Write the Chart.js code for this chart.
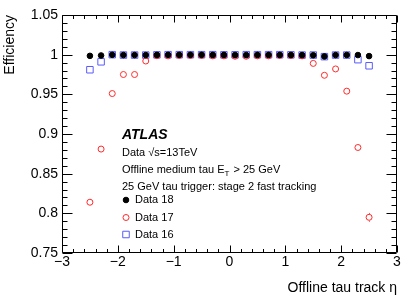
<!DOCTYPE html>
<html><head><meta charset="utf-8">
<script src="https://cdn.jsdelivr.net/npm/chart.js@4/dist/chart.umd.min.js"></script>
<style>html,body{margin:0;padding:0;background:#fff}#wrap{width:415px;height:298px}</style>
</head><body><div id="wrap"><canvas id="c" width="415" height="298"></canvas></div>
<script>
// ---- data ----
const etaBins = [-2.5,-2.3,-2.1,-1.9,-1.7,-1.5,-1.3,-1.1,-0.9,-0.7,-0.5,-0.3,-0.1,0.1,0.3,0.5,0.7,0.9,1.1,1.3,1.5,1.7,1.9,2.1,2.3,2.5];
const data18 = [0.9985,0.9990,0.9998,0.9995,0.9995,0.9995,0.9997,0.9998,0.9998,0.9998,0.9998,0.9997,0.9997,0.9996,0.9996,0.9997,0.9997,0.9997,0.9996,0.9995,0.9993,0.9978,0.9995,0.9996,0.9995,0.9982];
const data17 = [0.814,0.881,0.951,0.975,0.975,0.992,0.9987,0.9985,0.999,0.999,0.999,0.9985,0.9985,0.998,0.998,0.9985,0.9985,0.999,0.999,0.9985,0.989,0.974,0.982,0.954,0.883,0.795];
const data17Err = [0.0045,0,0,0,0,0,0,0,0,0,0,0,0,0,0,0,0,0,0,0,0,0,0,0,0,0.0055];
const data16 = [0.981,0.991,1.0,0.9995,0.9995,0.9995,0.9998,1.0,1.0,1.0,1.0,1.0,0.9998,0.9998,1.0,1.0,1.0,1.0,0.9998,0.9995,0.9995,0.9975,0.9995,0.9995,0.9937,0.986];
const seriesLabels = ['Data 18','Data 17','Data 16'];
const xTickValues = [-3,-2,-1,0,1,2,3];
const yTickValues = [0.75,0.8,0.85,0.9,0.95,1,1.05];
const xTitle = 'Offline tau track \u03b7';
const yTitle = 'Efficiency';
const experimentLabel = 'ATLAS';
const infoLine1 = 'Data \u221as=13TeV';
const infoLine3 = '25 GeV tau trigger: stage 2 fast tracking';

const FONT = "'Liberation Sans', Arial, Helvetica, sans-serif";
const RED = '#ff2a2a', BLUE = '#5a5aff';

function pts(ys){ return etaBins.map((x,i)=>({x:x,y:ys[i]})); }

const rootAxes = {
  id:'rootAxes',
  afterDraw(chart){
    const ctx = chart.ctx, a = chart.chartArea, xs = chart.scales.x, ys = chart.scales.y;
    ctx.save();
    ctx.strokeStyle = '#000'; ctx.lineWidth = 1;
    const L = Math.round(a.left)+0.5, R = Math.round(a.right)-0.5, T = Math.round(a.top)+0.5, B = Math.round(a.bottom)-0.5;
    ctx.beginPath(); ctx.rect(L, T, R-L, B-T); ctx.stroke();
    ctx.beginPath();
    for (let i=-15;i<=15;i++){
      const v = i/5, major = (i%5===0);
      const px = Math.round(xs.getPixelForValue(v))+0.5;
      const len = major ? 7 : 3.5;
      ctx.moveTo(px,B); ctx.lineTo(px,B-len);
      ctx.moveTo(px,T); ctx.lineTo(px,T+len);
    }
    for (let i=75;i<=105;i++){
      const v = i/100, major = (i%5===0);
      const py = Math.round(ys.getPixelForValue(v))+0.5;
      const len = major ? 10 : 5;
      ctx.moveTo(L,py); ctx.lineTo(L+len,py);
      ctx.moveTo(R,py); ctx.lineTo(R-len,py);
    }
    ctx.stroke();
    ctx.restore();
  }
};

const errBars = {
  id:'errBars',
  afterDatasetsDraw(chart){
    const ctx = chart.ctx, xs = chart.scales.x, ys = chart.scales.y;
    const ds = chart.data.datasets[1];
    const r = ds.pointRadius + 0.5;
    ctx.save(); ctx.strokeStyle = RED; ctx.lineWidth = 1;
    ctx.beginPath();
    data17.forEach((v,i)=>{
      const e = data17Err[i]; if (!e) return;
      const px = Math.round(xs.getPixelForValue(etaBins[i]))+0.5;
      const cy = ys.getPixelForValue(v);
      const top = ys.getPixelForValue(v+e), bot = ys.getPixelForValue(v-e);
      if (top < cy - r){ ctx.moveTo(px, top); ctx.lineTo(px, cy - r); }
      if (bot > cy + r){ ctx.moveTo(px, cy + r); ctx.lineTo(px, bot); }
    });
    ctx.stroke(); ctx.restore();
  }
};

function drawMarker(ctx, ds, x, y){
  ctx.save();
  ctx.lineWidth = ds.borderWidth; ctx.strokeStyle = ds.borderColor; ctx.fillStyle = ds.backgroundColor;
  ctx.beginPath();
  if (ds.pointStyle === 'rect'){
    const s = Math.SQRT1_2 * ds.pointRadius;
    ctx.rect(x - s, y - s, 2*s, 2*s);
  } else {
    ctx.arc(x, y, ds.pointRadius, 0, Math.PI*2);
  }
  ctx.fill(); ctx.stroke();
  ctx.restore();
}

const textBlock = {
  id:'textBlock',
  afterDraw(chart){
    const ctx = chart.ctx;
    ctx.save();
    ctx.fillStyle = '#000'; ctx.textBaseline = 'middle'; ctx.textAlign = 'left';
    const x0 = 122;
    ctx.font = 'italic bold 14px ' + FONT;
    ctx.fillText(experimentLabel, x0, 135);
    ctx.font = '11px ' + FONT;
    ctx.fillText(infoLine1, x0, 153);
    let x = x0;
    const p1 = 'Offline medium tau E';
    ctx.fillText(p1, x, 170); x += ctx.measureText(p1).width;
    ctx.font = '8px ' + FONT;
    ctx.fillText('T', x, 173.5); x += ctx.measureText('T').width + 1;
    ctx.font = '11px ' + FONT;
    ctx.fillText(' > 25 GeV', x, 170);
    ctx.fillText(infoLine3, x0, 186.5);
    const rows = [200, 217.5, 234.5];
    chart.data.datasets.forEach((ds,i)=>{
      drawMarker(ctx, ds, 126, rows[i]);
      ctx.fillStyle = '#000'; ctx.font = '11px ' + FONT;
      ctx.fillText(ds.label, 135, rows[i]);
    });
    ctx.restore();
  }
};

const fmtX = v => v < 0 ? '\u2212' + Math.abs(v) : String(v);
const fmtY = v => String(Math.round(v*100)/100);

new Chart(document.getElementById('c'), {
  type:'scatter',
  data:{ datasets:[
    {label:seriesLabels[0], data:pts(data18), pointStyle:'circle', pointRadius:2.8, backgroundColor:'#000', borderColor:'#000', borderWidth:1, showLine:false},
    {label:seriesLabels[1], data:pts(data17), pointStyle:'circle', pointRadius:3, backgroundColor:'rgba(0,0,0,0)', borderColor:RED, borderWidth:1, showLine:false},
    {label:seriesLabels[2], data:pts(data16), pointStyle:'rect', pointRadius:4.6, backgroundColor:'rgba(0,0,0,0)', borderColor:BLUE, borderWidth:1, showLine:false}
  ]},
  options:{
    responsive:false, devicePixelRatio:1, animation:false,
    layout:{ padding:{ top:15, right:18, left:0, bottom:0 } },
    plugins:{ legend:{display:false}, tooltip:{enabled:false} },
    elements:{ point:{ hoverRadius:0 } },
    scales:{
      x:{ type:'linear', position:'bottom', min:-3, max:3,
        grid:{display:false, drawTicks:false, tickLength:0}, border:{display:false},
        afterBuildTicks: s => { s.ticks = xTickValues.map(v=>({value:v})); },
        afterFit: s => { s.height = 45; },
        ticks:{ color:'#000', font:{family:FONT, size:14}, padding:1, maxRotation:0, autoSkip:false, callback: v => fmtX(v) },
        title:{ display:true, text:xTitle, align:'end', color:'#000', font:{family:FONT, size:14}, padding:{top:0, bottom:1.5} }
      },
      y:{ type:'linear', position:'left', min:0.75, max:1.05,
        grid:{display:false, drawTicks:false, tickLength:0}, border:{display:false},
        afterBuildTicks: s => { s.ticks = yTickValues.map(v=>({value:v})); },
        afterFit: s => { s.width = 62; },
        ticks:{ color:'#000', font:{family:FONT, size:14}, padding:4, autoSkip:false, callback: v => fmtY(v) },
        title:{ display:true, text:yTitle, align:'end', color:'#000', font:{family:FONT, size:14}, padding:{top:1.5, bottom:0} }
      }
    }
  },
  plugins:[rootAxes, errBars, textBlock]
});
</script>
</body></html>
